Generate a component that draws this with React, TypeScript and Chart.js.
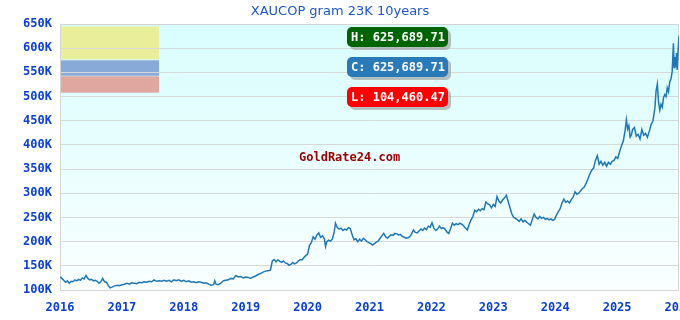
import React, { useEffect, useRef } from "react";
import { Chart, registerables } from "chart.js";

Chart.register(...registerables);

const TITLE = "XAUCOP gram 23K 10years";
const WATERMARK = "GoldRate24.com";
const X_TICKS = [2016, 2017, 2018, 2019, 2020, 2021, 2022, 2023, 2024, 2025, 2026];
const Y_MIN = 100000;
const Y_MAX = 650000;
const Y_STEP = 50000;

// [decimal year, price in thousands COP]
const SERIES_K: Array<[number, number]> = [
  [2016.0, 127], [2016.03, 124], [2016.06, 120], [2016.09, 116], [2016.12, 119], [2016.15, 114],
  [2016.18, 118], [2016.21, 117], [2016.24, 121], [2016.27, 119], [2016.3, 122], [2016.33, 120],
  [2016.36, 125], [2016.39, 123], [2016.42, 130], [2016.45, 124], [2016.48, 121], [2016.51, 122],
  [2016.54, 119], [2016.57, 120], [2016.6, 118], [2016.63, 114], [2016.66, 117], [2016.69, 124],
  [2016.72, 117], [2016.75, 116], [2016.78, 109], [2016.81, 104.46047], [2016.84, 106], [2016.87, 108],
  [2016.9, 109], [2016.93, 110], [2016.96, 109],
  [2017.0, 111], [2017.04, 112], [2017.08, 114], [2017.12, 112], [2017.16, 115], [2017.2, 114],
  [2017.24, 113], [2017.28, 116], [2017.32, 115], [2017.36, 117], [2017.4, 116], [2017.44, 118],
  [2017.48, 117], [2017.52, 121], [2017.56, 118], [2017.6, 119], [2017.64, 118], [2017.68, 120],
  [2017.72, 118], [2017.76, 120], [2017.8, 117], [2017.84, 121], [2017.88, 119], [2017.92, 121],
  [2017.96, 118],
  [2018.0, 120], [2018.04, 117], [2018.08, 119], [2018.12, 116], [2018.16, 117], [2018.2, 115],
  [2018.24, 117], [2018.28, 116], [2018.32, 114], [2018.36, 115], [2018.4, 112], [2018.44, 110],
  [2018.48, 111], [2018.5, 119], [2018.52, 112], [2018.56, 111], [2018.6, 114], [2018.64, 119],
  [2018.68, 120], [2018.72, 121], [2018.76, 124], [2018.8, 123], [2018.84, 130], [2018.88, 127],
  [2018.92, 128], [2018.96, 125],
  [2019.0, 127], [2019.04, 126], [2019.08, 124], [2019.12, 127], [2019.16, 129], [2019.2, 132],
  [2019.24, 134], [2019.28, 137], [2019.32, 139], [2019.36, 140], [2019.4, 141], [2019.43, 160],
  [2019.46, 163], [2019.49, 158], [2019.52, 162], [2019.55, 159], [2019.58, 157], [2019.61, 160],
  [2019.64, 156], [2019.67, 155], [2019.7, 151], [2019.73, 153], [2019.76, 157], [2019.79, 154],
  [2019.82, 156], [2019.85, 160], [2019.88, 163], [2019.91, 162], [2019.94, 167], [2019.97, 171],
  [2020.0, 174], [2020.03, 192], [2020.06, 198], [2020.09, 210], [2020.12, 205], [2020.15, 214],
  [2020.18, 218], [2020.21, 209], [2020.24, 212], [2020.27, 206], [2020.29, 190], [2020.31, 200],
  [2020.34, 203], [2020.37, 201], [2020.4, 205], [2020.43, 220], [2020.45, 238], [2020.48, 229],
  [2020.51, 226], [2020.54, 228], [2020.57, 223], [2020.6, 226], [2020.63, 224], [2020.66, 229],
  [2020.69, 227], [2020.72, 214], [2020.75, 204], [2020.78, 206], [2020.81, 200], [2020.84, 205],
  [2020.87, 201], [2020.9, 207], [2020.93, 204], [2020.96, 200], [2020.99, 198],
  [2021.02, 196], [2021.05, 193], [2021.08, 196], [2021.11, 199], [2021.14, 201], [2021.17, 207],
  [2021.2, 212], [2021.23, 217], [2021.26, 210], [2021.29, 207], [2021.32, 211], [2021.35, 214],
  [2021.38, 213], [2021.41, 217], [2021.44, 216], [2021.47, 214], [2021.5, 215], [2021.53, 211],
  [2021.56, 209], [2021.59, 207], [2021.62, 208], [2021.65, 210], [2021.68, 216], [2021.71, 224],
  [2021.74, 219], [2021.77, 218], [2021.8, 222], [2021.83, 226], [2021.86, 223], [2021.89, 228],
  [2021.92, 225], [2021.95, 232], [2021.98, 230],
  [2022.01, 239], [2022.04, 228], [2022.07, 223], [2022.1, 226], [2022.13, 232], [2022.16, 227],
  [2022.19, 229], [2022.22, 226], [2022.25, 220], [2022.28, 217], [2022.31, 227], [2022.34, 238],
  [2022.37, 234], [2022.4, 237], [2022.43, 235], [2022.46, 238], [2022.49, 236], [2022.52, 233],
  [2022.55, 228], [2022.58, 224], [2022.61, 236], [2022.64, 245], [2022.67, 252], [2022.7, 265],
  [2022.73, 262], [2022.76, 267], [2022.79, 264], [2022.82, 268], [2022.85, 266], [2022.88, 282],
  [2022.91, 278], [2022.94, 276], [2022.97, 270],
  [2023.0, 277], [2023.03, 273], [2023.06, 293], [2023.09, 284], [2023.12, 280], [2023.15, 286],
  [2023.18, 290], [2023.21, 296], [2023.24, 283], [2023.27, 270], [2023.3, 257], [2023.33, 250],
  [2023.36, 248], [2023.39, 245], [2023.42, 242], [2023.45, 247], [2023.48, 241], [2023.51, 244],
  [2023.54, 240], [2023.57, 237], [2023.6, 234], [2023.63, 246], [2023.66, 257], [2023.69, 250],
  [2023.72, 247], [2023.75, 252], [2023.78, 248], [2023.81, 250], [2023.84, 246], [2023.87, 248],
  [2023.9, 245], [2023.93, 247], [2023.96, 244], [2023.99, 246],
  [2024.02, 255], [2024.05, 262], [2024.08, 268], [2024.11, 280], [2024.14, 288], [2024.17, 281],
  [2024.2, 284], [2024.23, 280], [2024.26, 287], [2024.29, 292], [2024.32, 303], [2024.35, 298],
  [2024.38, 300], [2024.41, 305], [2024.44, 310], [2024.47, 313], [2024.5, 321], [2024.53, 330],
  [2024.56, 340], [2024.59, 348], [2024.62, 352], [2024.65, 368], [2024.68, 378], [2024.71, 360],
  [2024.74, 366], [2024.77, 358], [2024.8, 364], [2024.83, 356], [2024.86, 364], [2024.89, 360],
  [2024.92, 366], [2024.95, 368], [2024.98, 375],
  [2025.01, 372], [2025.04, 386], [2025.07, 398], [2025.1, 408], [2025.13, 430], [2025.15, 452],
  [2025.17, 433], [2025.19, 440], [2025.21, 416], [2025.23, 420], [2025.25, 432], [2025.28, 436],
  [2025.31, 418], [2025.34, 422], [2025.37, 412], [2025.4, 432], [2025.43, 420], [2025.46, 424],
  [2025.49, 416], [2025.52, 428], [2025.55, 442], [2025.58, 450], [2025.61, 476], [2025.63, 512],
  [2025.65, 526], [2025.67, 488], [2025.69, 472], [2025.71, 484], [2025.73, 478], [2025.75, 498],
  [2025.77, 504], [2025.79, 500], [2025.81, 518], [2025.83, 510], [2025.85, 530], [2025.87, 536],
  [2025.89, 552], [2025.91, 610], [2025.92, 560], [2025.935, 582], [2025.95, 562], [2025.96, 590],
  [2025.97, 555], [2025.985, 594], [2026.0, 625.68971],
];

const LEGEND_BANDS = [
  { color: "rgba(232,238,154,1)", top: 645000, bottom: 577000 },
  { color: "rgba(136,170,216,1)", top: 575000, bottom: 543000 },
  { color: "rgba(224,166,160,1)", top: 542000, bottom: 508000 },
];
const LEGEND_X = [2016.0, 2017.6];

const fmt = (v: number) =>
  v.toLocaleString("en-US", { minimumFractionDigits: 2, maximumFractionDigits: 2 });

export default function App() {
  const ref = useRef<HTMLCanvasElement | null>(null);

  useEffect(() => {
    document.body.style.margin = "0";
    const canvas = ref.current;
    if (!canvas) return;

    const data = SERIES_K.map(([x, y]) => ({ x, y: Math.round(y * 100000) / 100 }));
    const values = data.map((d) => d.y);
    const hi = Math.max(...values);
    const lo = Math.min(...values);
    const cur = values[values.length - 1];

    const deco = {
      id: "deco",
      beforeDraw(chart: any) {
        const { ctx, chartArea: a, scales } = chart;
        ctx.save();
        ctx.fillStyle = "#ffffff";
        ctx.fillRect(0, 0, chart.width, chart.height);
        const g = ctx.createLinearGradient(0, a.top, 0, a.bottom);
        g.addColorStop(0, "rgb(216,253,253)");
        g.addColorStop(1, "rgb(250,255,255)");
        ctx.fillStyle = g;
        ctx.fillRect(a.left, a.top, a.right - a.left, a.bottom - a.top);
        const x0 = scales.x.getPixelForValue(LEGEND_X[0]) + 1;
        const x1 = scales.x.getPixelForValue(LEGEND_X[1]);
        for (const b of LEGEND_BANDS) {
          const t = scales.y.getPixelForValue(b.top);
          const bt = scales.y.getPixelForValue(b.bottom);
          ctx.fillStyle = b.color;
          ctx.fillRect(x0, t, x1 - x0, bt - t);
        }
        ctx.restore();
      },
      beforeDatasetsDraw(chart: any) {
        const { ctx, chartArea: a } = chart;
        ctx.save();
        ctx.strokeStyle = "#d4d4d4";
        ctx.lineWidth = 1;
        ctx.strokeRect(Math.round(a.left) + 0.5, Math.round(a.top) + 0.5, Math.round(a.right - a.left) - 1, Math.round(a.bottom - a.top));
        ctx.restore();
      },
      afterDraw(chart: any) {
        const { ctx } = chart;
        ctx.save();
        // title
        ctx.fillStyle = "#1d55c8";
        ctx.font = '13px "DejaVu Sans"';
        ctx.textAlign = "center";
        ctx.textBaseline = "middle";
        ctx.fillText(TITLE, 340, 12);
        // watermark
        ctx.fillStyle = "#990000";
        ctx.font = 'bold 12px "DejaVu Sans Mono"';
        ctx.textAlign = "left";
        ctx.fillText(WATERMARK, 299, 158);
        // H / C / L badges
        const badges = [
          { text: "H: " + fmt(hi), color: "#006400", y: 27 },
          { text: "C: " + fmt(cur), color: "#2a7ab8", y: 57 },
          { text: "L: " + fmt(lo), color: "#ff0000", y: 87 },
        ];
        const bx = 347, bw = 101, bh = 20, r = 5;
        for (const b of badges) {
          ctx.fillStyle = "rgba(150,150,150,0.6)";
          ctx.beginPath();
          ctx.roundRect(bx + 3, b.y + 3, bw, bh, r);
          ctx.fill();
          ctx.fillStyle = b.color;
          ctx.beginPath();
          ctx.roundRect(bx, b.y, bw, bh, r);
          ctx.fill();
          ctx.fillStyle = "#ffffff";
          ctx.font = 'bold 12px "DejaVu Sans Mono"';
          ctx.textAlign = "left";
          ctx.textBaseline = "middle";
          ctx.fillText(b.text, bx + 4, b.y + bh / 2 + 0.5);
        }
        ctx.restore();
      },
    };

    const tickFont = { family: '"DejaVu Sans Mono"', size: 12, weight: "bold" as const };
    const chart = new Chart(canvas, {
      type: "line",
      data: {
        datasets: [
          {
            data,
            borderColor: "#1f77b4",
            borderWidth: 1.5,
            pointRadius: 0,
            tension: 0,
            fill: false,
          },
        ],
      },
      options: {
        animation: false,
        responsive: false,
        maintainAspectRatio: false,
        parsing: true,
        layout: { padding: { top: 24, right: 1, left: 0, bottom: 0 } },
        plugins: {
          legend: { display: false },
          title: { display: false },
          tooltip: { enabled: false },
        },
        scales: {
          x: {
            type: "linear",
            min: X_TICKS[0],
            max: X_TICKS[X_TICKS.length - 1],
            afterBuildTicks: (s: any) => {
              s.ticks = X_TICKS.map((v) => ({ value: v }));
            },
            afterFit: (s: any) => {
              s.height = 30;
              s.paddingLeft = 0;
              s.paddingRight = 0;
            },
            grid: { display: false, drawTicks: false },
            border: { display: false },
            ticks: {
              color: "#0b40d0",
              font: tickFont,
              padding: 11,
              maxRotation: 0,
              autoSkip: false,
              callback: (v: any) => String(v),
            },
          },
          y: {
            min: Y_MIN,
            max: Y_MAX,
            afterFit: (s: any) => {
              s.width = 60;
              s.paddingTop = 0;
              s.paddingBottom = 0;
            },
            grid: { color: "#d8d8d8", drawTicks: false, lineWidth: 1 },
            border: { display: false },
            ticks: {
              stepSize: Y_STEP,
              color: "#0b40d0",
              font: tickFont,
              padding: 8,
              callback: (v: any) => Number(v) / 1000 + "K",
            },
          },
        },
      },
      plugins: [deco],
    });

    return () => chart.destroy();
  }, []);

  return (
    <div style={{ width: 680, height: 320 }}>
      <canvas ref={ref} width={680} height={320} style={{ display: "block", width: 680, height: 320 }} />
    </div>
  );
}
